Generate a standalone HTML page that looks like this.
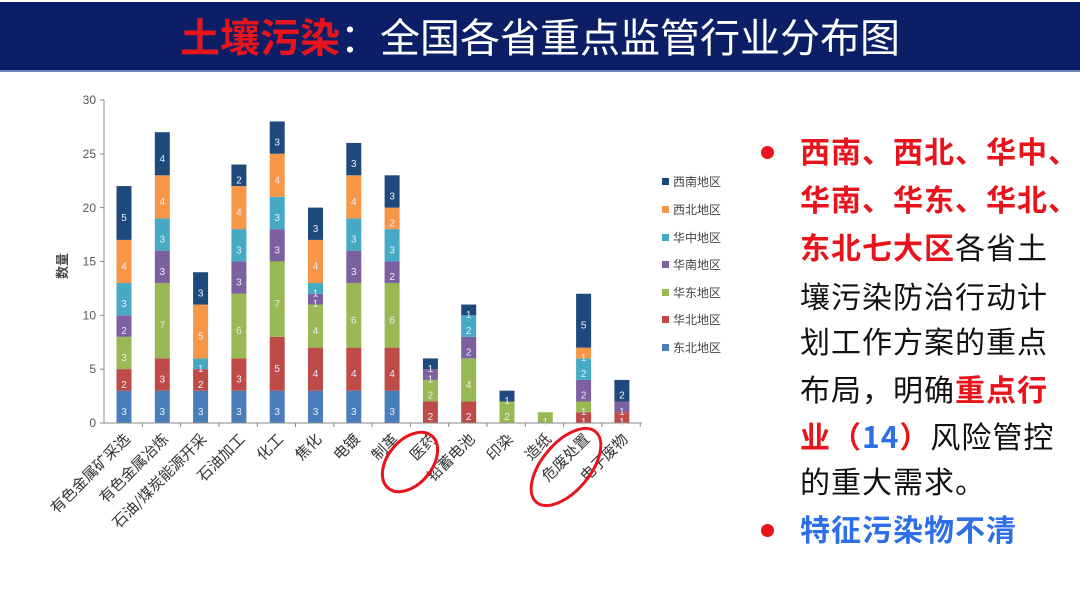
<!DOCTYPE html>
<html><head><meta charset="utf-8"><style>
html,body{margin:0;padding:0;background:#fff;}
body{width:1080px;height:607px;position:relative;overflow:hidden;font-family:"Liberation Sans","Noto Sans CJK SC",sans-serif;}
.band{position:absolute;left:0;top:2px;width:1080px;height:68px;background:#0c1f66;border-bottom:2px solid #6f86b8;}
.title{position:absolute;left:0;top:7px;width:1080px;text-align:center;font-size:40px;color:#fff;line-height:56px;font-family:"Noto Sans CJK SC",sans-serif;}
.title b{color:#e8141c;}
.ln{position:absolute;left:800px;font-size:30px;letter-spacing:1px;line-height:40px;color:#111;white-space:nowrap;font-family:"Noto Sans CJK SC",sans-serif;}
.r{color:#e8141c;font-weight:bold;}
.bl{color:#2e6fe8;font-weight:bold;}
.dot{position:absolute;width:13px;height:13px;border-radius:50%;background:#e8141c;left:761px;}
</style></head><body>
<div class="band"></div>
<div class="title"><b>土壤污染</b>：全国各省重点监管行业分布图</div>
<svg width="1080" height="607" style="position:absolute;left:0;top:0" font-family="Liberation Sans, Noto Sans CJK SC, sans-serif">
<g transform="matrix(1,0,0,-10.77,0,423)">
<rect x="116.5" y="0" width="15" height="3" fill="#4a7ebb"/><rect x="116.5" y="3" width="15" height="2" fill="#be4b48"/><rect x="116.5" y="5" width="15" height="3" fill="#98b954"/><rect x="116.5" y="8" width="15" height="2" fill="#7d60a0"/><rect x="116.5" y="10" width="15" height="3" fill="#46aac5"/><rect x="116.5" y="13" width="15" height="4" fill="#f79646"/><rect x="116.5" y="17" width="15" height="5" fill="#1f497d"/>
<rect x="154.8" y="0" width="15" height="3" fill="#4a7ebb"/><rect x="154.8" y="3" width="15" height="3" fill="#be4b48"/><rect x="154.8" y="6" width="15" height="7" fill="#98b954"/><rect x="154.8" y="13" width="15" height="3" fill="#7d60a0"/><rect x="154.8" y="16" width="15" height="3" fill="#46aac5"/><rect x="154.8" y="19" width="15" height="4" fill="#f79646"/><rect x="154.8" y="23" width="15" height="4" fill="#1f497d"/>
<rect x="193.1" y="0" width="15" height="3" fill="#4a7ebb"/><rect x="193.1" y="3" width="15" height="2" fill="#be4b48"/><rect x="193.1" y="5" width="15" height="1" fill="#46aac5"/><rect x="193.1" y="6" width="15" height="5" fill="#f79646"/><rect x="193.1" y="11" width="15" height="3" fill="#1f497d"/>
<rect x="231.4" y="0" width="15" height="3" fill="#4a7ebb"/><rect x="231.4" y="3" width="15" height="3" fill="#be4b48"/><rect x="231.4" y="6" width="15" height="6" fill="#98b954"/><rect x="231.4" y="12" width="15" height="3" fill="#7d60a0"/><rect x="231.4" y="15" width="15" height="3" fill="#46aac5"/><rect x="231.4" y="18" width="15" height="4" fill="#f79646"/><rect x="231.4" y="22" width="15" height="2" fill="#1f497d"/>
<rect x="269.7" y="0" width="15" height="3" fill="#4a7ebb"/><rect x="269.7" y="3" width="15" height="5" fill="#be4b48"/><rect x="269.7" y="8" width="15" height="7" fill="#98b954"/><rect x="269.7" y="15" width="15" height="3" fill="#7d60a0"/><rect x="269.7" y="18" width="15" height="3" fill="#46aac5"/><rect x="269.7" y="21" width="15" height="4" fill="#f79646"/><rect x="269.7" y="25" width="15" height="3" fill="#1f497d"/>
<rect x="308" y="0" width="15" height="3" fill="#4a7ebb"/><rect x="308" y="3" width="15" height="4" fill="#be4b48"/><rect x="308" y="7" width="15" height="4" fill="#98b954"/><rect x="308" y="11" width="15" height="1" fill="#7d60a0"/><rect x="308" y="12" width="15" height="1" fill="#46aac5"/><rect x="308" y="13" width="15" height="4" fill="#f79646"/><rect x="308" y="17" width="15" height="3" fill="#1f497d"/>
<rect x="346.3" y="0" width="15" height="3" fill="#4a7ebb"/><rect x="346.3" y="3" width="15" height="4" fill="#be4b48"/><rect x="346.3" y="7" width="15" height="6" fill="#98b954"/><rect x="346.3" y="13" width="15" height="3" fill="#7d60a0"/><rect x="346.3" y="16" width="15" height="3" fill="#46aac5"/><rect x="346.3" y="19" width="15" height="4" fill="#f79646"/><rect x="346.3" y="23" width="15" height="3" fill="#1f497d"/>
<rect x="384.6" y="0" width="15" height="3" fill="#4a7ebb"/><rect x="384.6" y="3" width="15" height="4" fill="#be4b48"/><rect x="384.6" y="7" width="15" height="6" fill="#98b954"/><rect x="384.6" y="13" width="15" height="2" fill="#7d60a0"/><rect x="384.6" y="15" width="15" height="3" fill="#46aac5"/><rect x="384.6" y="18" width="15" height="2" fill="#f79646"/><rect x="384.6" y="20" width="15" height="3" fill="#1f497d"/>
<rect x="422.9" y="0" width="15" height="2" fill="#be4b48"/><rect x="422.9" y="2" width="15" height="2" fill="#98b954"/><rect x="422.9" y="4" width="15" height="1" fill="#7d60a0"/><rect x="422.9" y="5" width="15" height="1" fill="#1f497d"/>
<rect x="461.2" y="0" width="15" height="2" fill="#be4b48"/><rect x="461.2" y="2" width="15" height="4" fill="#98b954"/><rect x="461.2" y="6" width="15" height="2" fill="#7d60a0"/><rect x="461.2" y="8" width="15" height="2" fill="#46aac5"/><rect x="461.2" y="10" width="15" height="1" fill="#1f497d"/>
<rect x="499.5" y="0" width="15" height="2" fill="#98b954"/><rect x="499.5" y="2" width="15" height="1" fill="#1f497d"/>
<rect x="537.8" y="0" width="15" height="1" fill="#98b954"/>
<rect x="576.1" y="0" width="15" height="1" fill="#be4b48"/><rect x="576.1" y="1" width="15" height="1" fill="#98b954"/><rect x="576.1" y="2" width="15" height="2" fill="#7d60a0"/><rect x="576.1" y="4" width="15" height="2" fill="#46aac5"/><rect x="576.1" y="6" width="15" height="1" fill="#f79646"/><rect x="576.1" y="7" width="15" height="5" fill="#1f497d"/>
<rect x="614.4" y="0" width="15" height="1" fill="#be4b48"/><rect x="614.4" y="1" width="15" height="1" fill="#7d60a0"/><rect x="614.4" y="2" width="15" height="2" fill="#1f497d"/>
</g>
<g font-size="10" fill="#e8eef8" text-anchor="middle">
<text x="124" y="414.8">3</text><text x="124" y="387.9">2</text><text x="124" y="361">3</text><text x="124" y="334">2</text><text x="124" y="307.1">3</text><text x="124" y="269.5">4</text><text x="124" y="221">5</text>
<text x="162.3" y="414.8">3</text><text x="162.3" y="382.5">3</text><text x="162.3" y="328.7">7</text><text x="162.3" y="274.8">3</text><text x="162.3" y="242.5">3</text><text x="162.3" y="204.8">4</text><text x="162.3" y="161.8">4</text>
<text x="200.6" y="414.8">3</text><text x="200.6" y="387.9">2</text><text x="200.6" y="371.8">1</text><text x="200.6" y="339.5">5</text><text x="200.6" y="296.4">3</text>
<text x="238.9" y="414.8">3</text><text x="238.9" y="382.5">3</text><text x="238.9" y="334.1">6</text><text x="238.9" y="285.6">3</text><text x="238.9" y="253.3">3</text><text x="238.9" y="215.6">4</text><text x="238.9" y="183.3">2</text>
<text x="277.2" y="414.8">3</text><text x="277.2" y="371.8">5</text><text x="277.2" y="307.1">7</text><text x="277.2" y="253.3">3</text><text x="277.2" y="221">3</text><text x="277.2" y="183.3">4</text><text x="277.2" y="145.6">3</text>
<text x="315.5" y="414.8">3</text><text x="315.5" y="377.2">4</text><text x="315.5" y="334.1">4</text><text x="315.5" y="307.1">1</text><text x="315.5" y="296.4">1</text><text x="315.5" y="269.5">4</text><text x="315.5" y="231.8">3</text>
<text x="353.8" y="414.8">3</text><text x="353.8" y="377.2">4</text><text x="353.8" y="323.3">6</text><text x="353.8" y="274.8">3</text><text x="353.8" y="242.5">3</text><text x="353.8" y="204.8">4</text><text x="353.8" y="167.1">3</text>
<text x="392.1" y="414.8">3</text><text x="392.1" y="377.2">4</text><text x="392.1" y="323.3">6</text><text x="392.1" y="280.2">2</text><text x="392.1" y="253.3">3</text><text x="392.1" y="226.4">2</text><text x="392.1" y="199.4">3</text>
<text x="430.4" y="420.2">2</text><text x="430.4" y="398.7">2</text><text x="430.4" y="382.5">1</text><text x="430.4" y="371.8">1</text>
<text x="468.7" y="420.2">2</text><text x="468.7" y="387.9">4</text><text x="468.7" y="355.6">2</text><text x="468.7" y="334.1">2</text><text x="468.7" y="317.9">1</text>
<text x="507" y="420.2">2</text><text x="507" y="404.1">1</text>
<text x="545.3" y="425">1</text>
<text x="583.6" y="425">1</text><text x="583.6" y="414.8">1</text><text x="583.6" y="398.7">2</text><text x="583.6" y="377.2">2</text><text x="583.6" y="361">1</text><text x="583.6" y="328.7">5</text>
<text x="621.9" y="425">1</text><text x="621.9" y="414.8">1</text><text x="621.9" y="398.7">2</text>
</g>
<g stroke="#888" stroke-width="1">
<line x1="104" y1="100" x2="104" y2="423"/>
<line x1="104" y1="423" x2="642" y2="423"/>
<line x1="100" y1="100" x2="104" y2="100"/><line x1="100" y1="153.9" x2="104" y2="153.9"/><line x1="100" y1="207.6" x2="104" y2="207.6"/><line x1="100" y1="261.5" x2="104" y2="261.5"/><line x1="100" y1="315.3" x2="104" y2="315.3"/><line x1="100" y1="369.2" x2="104" y2="369.2"/><line x1="100" y1="423" x2="104" y2="423"/>
<line x1="142.3" y1="423" x2="142.3" y2="427"/><line x1="180.6" y1="423" x2="180.6" y2="427"/><line x1="218.9" y1="423" x2="218.9" y2="427"/><line x1="257.2" y1="423" x2="257.2" y2="427"/><line x1="295.5" y1="423" x2="295.5" y2="427"/><line x1="333.8" y1="423" x2="333.8" y2="427"/><line x1="372.1" y1="423" x2="372.1" y2="427"/><line x1="410.4" y1="423" x2="410.4" y2="427"/><line x1="448.7" y1="423" x2="448.7" y2="427"/><line x1="487" y1="423" x2="487" y2="427"/><line x1="525.3" y1="423" x2="525.3" y2="427"/><line x1="563.6" y1="423" x2="563.6" y2="427"/><line x1="601.9" y1="423" x2="601.9" y2="427"/><line x1="640.2" y1="423" x2="640.2" y2="427"/>
</g>
<g font-size="12" fill="#555" text-anchor="end">
<text x="96" y="104">30</text><text x="96" y="158">25</text><text x="96" y="212">20</text><text x="96" y="265.5">15</text><text x="96" y="319.5">10</text><text x="96" y="373">5</text><text x="96" y="427">0</text>
</g>
<text transform="translate(67,266) rotate(-90)" font-size="13" fill="#444" text-anchor="middle" font-weight="bold">数量</text>
<g font-size="15" fill="#333" text-anchor="end" font-family="Noto Sans CJK SC, sans-serif">
<text transform="translate(131,440) rotate(-45)">有色金属矿采选</text>
<text transform="translate(169.3,440) rotate(-45)">有色金属冶炼</text>
<text transform="translate(207.6,440) rotate(-45)">石油/煤炭能源开采</text>
<text transform="translate(245.9,440) rotate(-45)">石油加工</text>
<text transform="translate(284.2,440) rotate(-45)">化工</text>
<text transform="translate(322.5,440) rotate(-45)">焦化</text>
<text transform="translate(360.8,440) rotate(-45)">电镀</text>
<text transform="translate(399.1,440) rotate(-45)">制革</text>
<text transform="translate(437.4,440) rotate(-45)">医药</text>
<text transform="translate(475.7,440) rotate(-45)">铅蓄电池</text>
<text transform="translate(514,440) rotate(-45)">印染</text>
<text transform="translate(552.3,440) rotate(-45)">造纸</text>
<text transform="translate(590.6,440) rotate(-45)">危废处置</text>
<text transform="translate(628.9,440) rotate(-45)">电子废物</text>
</g>
<ellipse cx="410" cy="462" rx="22" ry="34" transform="rotate(40 410 462)" fill="none" stroke="#e8141c" stroke-width="3"/>
<ellipse cx="566" cy="467" rx="24" ry="46" transform="rotate(40 566 467)" fill="none" stroke="#e8141c" stroke-width="3"/>
<g font-size="12" fill="#444" font-family="Noto Sans CJK SC, sans-serif">
<rect x="662" y="178" width="7" height="7" fill="#1f497d"/><text x="673" y="186">西南地区</text>
<rect x="662" y="206" width="7" height="7" fill="#f79646"/><text x="673" y="214">西北地区</text>
<rect x="662" y="234" width="7" height="7" fill="#46aac5"/><text x="673" y="242">华中地区</text>
<rect x="662" y="261" width="7" height="7" fill="#7d60a0"/><text x="673" y="269">华南地区</text>
<rect x="662" y="289" width="7" height="7" fill="#98b954"/><text x="673" y="297">华东地区</text>
<rect x="662" y="316" width="7" height="7" fill="#be4b48"/><text x="673" y="324">华北地区</text>
<rect x="662" y="344" width="7" height="7" fill="#4a7ebb"/><text x="673" y="352">东北地区</text>
</g>
</svg>
<div class="dot" style="top:146px"></div>
<div class="dot" style="top:524px"></div>
<div class="ln r" style="top:130px">西南、西北、华中、</div>
<div class="ln r" style="top:178px">华南、华东、华北、</div>
<div class="ln" style="top:226px"><span class="r">东北七大区</span>各省土</div>
<div class="ln" style="top:275px">壤污染防治行动计</div>
<div class="ln" style="top:320px">划工作方案的重点</div>
<div class="ln" style="top:368px">布局，明确<span class="r">重点行</span></div>
<div class="ln" style="top:415px"><span class="r">业（</span><span class="bl">14</span><span class="r">）</span>风险管控</div>
<div class="ln" style="top:460px">的重大需求。</div>
<div class="ln bl" style="top:508px">特征污染物不清</div>
</body></html>
